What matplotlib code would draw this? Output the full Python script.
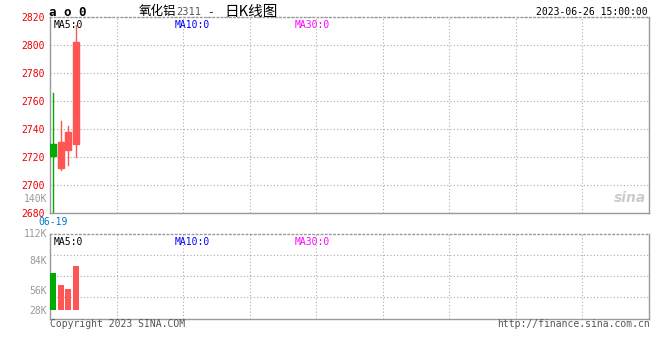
import matplotlib.pyplot as plt
from matplotlib.patches import Rectangle

plt.rcParams['font.family'] = ['DejaVu Sans Mono', 'Noto Sans CJK SC']

# daily candles (open, close, high, low) and volume
dates = ["06-19", "06-20", "06-21", "06-26"]
opens = [2729, 2712, 2725, 2729]
closes = [2721, 2731, 2738, 2802]
highs = [2766, 2746, 2742, 2814]
lows = [2670, 2711, 2714, 2720]
volumes = [69600, 56100, 51800, 77300]

price_ticks = [2680, 2700, 2720, 2740, 2760, 2780, 2800, 2820]
vol_labels = ["112K", "84K", "56K", "28K"]
vol_label_pos = [112000, 82400, 49600, 27700]

UP = "#ff5555"
DOWN = "#00aa00"
FRAME = "#999999"
GRID = "#aaaaaa"
CJK = ["Noto Sans CJK SC", "DejaVu Sans"]

fig = plt.figure(figsize=(6.6, 3.6), dpi=100)
ax = fig.add_axes([50 / 660, (360 - 213) / 360, 599 / 660, 196 / 360])
axv = fig.add_axes([50 / 660, (360 - 318.5) / 360, 599 / 660, 84.5 / 360])

slots = 599 / 7.6
for a in (ax, axv):
    a.set_xlim(-0.4, slots - 0.4)
    a.set_xticks([k * slots / 9 - 0.4 for k in range(1, 9)])
    a.tick_params(length=0, labelbottom=False)
    a.grid(True, color=GRID, linestyle=(0, (1, 2)), linewidth=0.8)
    for s in a.spines.values():
        s.set_color(FRAME)
        s.set_linewidth(1)
    a.spines["top"].set_linestyle((0, (1, 2)))

# price panel
ax.set_ylim(2680, 2820)
ax.set_yticks(price_ticks)
ax.set_yticklabels([str(t) for t in price_ticks], color="#ee0000", fontsize=7)
for i in range(len(dates)):
    c = UP if closes[i] >= opens[i] else DOWN
    ax.plot([i, i], [lows[i], highs[i]], color=c, linewidth=1, zorder=3)
    lo, hi = min(opens[i], closes[i]), max(opens[i], closes[i])
    ax.add_patch(Rectangle((i - 0.38, lo), 0.76, hi - lo, color=c, zorder=4))
ax.text(0.006, 0.985, "MA5:0", transform=ax.transAxes, fontsize=7, va="top", color="black")
ax.text(0.208, 0.985, "MA10:0", transform=ax.transAxes, fontsize=7, va="top", color="#0000ff")
ax.text(0.408, 0.985, "MA30:0", transform=ax.transAxes, fontsize=7, va="top", color="#ff00ff")
ax.text(-0.005, 2690, "140K", transform=ax.get_yaxis_transform(), fontsize=7,
        color="#999999", ha="right", va="center")
ax.text(0, -0.045, dates[0], transform=ax.get_xaxis_transform(), fontsize=7,
        color="#0077cc", ha="center", va="center")
ax.text(0.995, 0.075, "sina", transform=ax.transAxes, fontsize=10, style="italic",
        fontweight="bold", color="#cccccc", ha="right", va="center", family="DejaVu Sans")

# volume panel
axv.set_ylim(19200, 112000)
span = 112000 - 19200
axv.set_yticks([19200 + span * k / 4 for k in range(1, 4)])
axv.set_yticklabels([])
for i in range(len(dates)):
    c = UP if closes[i] >= opens[i] else DOWN
    axv.bar(i, volumes[i] - 28000, bottom=28000, width=0.76, color=c, zorder=3)
for lab, pos in zip(vol_labels, vol_label_pos):
    axv.text(-0.005, pos, lab, transform=axv.get_yaxis_transform(), fontsize=7,
             color="#999999", ha="right", va="center")
axv.text(0.006, 0.97, "MA5:0", transform=axv.transAxes, fontsize=7, va="top", color="black")
axv.text(0.208, 0.97, "MA10:0", transform=axv.transAxes, fontsize=7, va="top", color="#0000ff")
axv.text(0.408, 0.97, "MA30:0", transform=axv.transAxes, fontsize=7, va="top", color="#ff00ff")

# header and footer
ty = 1 - 12 / 360
fig.text(49 / 660, 1 - 13 / 360, "a o 0", fontsize=9, fontweight="bold", va="center")
fig.text(139 / 660, ty, "氧化铝", fontsize=9, family=CJK, va="center")
fig.text(176 / 660, ty, "2311", fontsize=7.5, color="#555555", va="center")
fig.text(207 / 660, ty, "-", fontsize=8, va="center")
fig.text(224 / 660, ty, "日K线图", fontsize=10.5, family=CJK, va="center")
fig.text(648 / 660, ty, "2023-06-26 15:00:00", fontsize=7, ha="right", va="center")
fig.text(50 / 660, 1 - 324 / 360, "Copyright 2023 SINA.COM", fontsize=7, color="#555555", va="center")
fig.text(650 / 660, 1 - 324 / 360, "http://finance.sina.com.cn", fontsize=7, color="#555555",
         ha="right", va="center")

fig.savefig("out.png", dpi=100, facecolor="white")
